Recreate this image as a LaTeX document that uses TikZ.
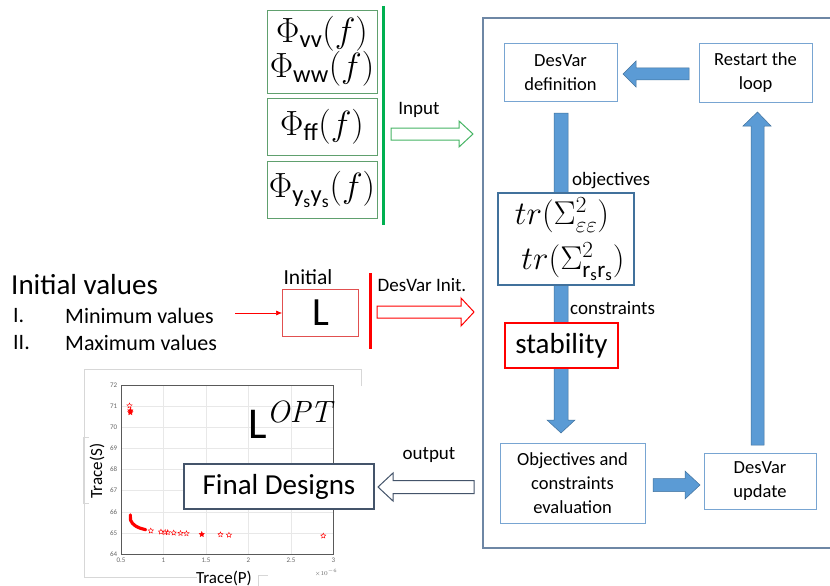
\documentclass[tikz,border=0pt]{standalone}
\usepackage{fix-cm}
\usepackage{amsmath}
\usepackage[no-math]{fontspec}
\setmainfont{Carlito}
\usetikzlibrary{shapes.geometric,arrows.meta}
\definecolor{phigreen}{RGB}{96,160,110}
\definecolor{bargreen}{RGB}{0,176,80}
\definecolor{arrowgreen}{RGB}{70,180,100}
\definecolor{boxblue}{RGB}{120,165,210}
\definecolor{objblue}{RGB}{65,113,156}
\definecolor{arrowblue}{RGB}{91,155,213}
\definecolor{bigframe}{RGB}{110,135,165}
\definecolor{lred}{RGB}{225,80,80}
\definecolor{slate}{RGB}{68,84,106}
\definecolor{gridc}{RGB}{232,232,232}
\definecolor{framec}{RGB}{215,215,215}
\begin{document}
\begin{tikzpicture}[x=1pt,y=-1pt,
  lbl/.style={font=\fontsize{19}{23}\selectfont, inner sep=0},
  bluebox/.style={draw=boxblue, line width=1pt, fill=white, align=center, inner sep=0,
    font=\fontsize{18.5}{24}\selectfont},
  phibox/.style={draw=phigreen, line width=0.8pt, fill=white, align=center, inner sep=0,
    minimum width=110pt, font=\fontsize{35}{35}\selectfont},
  blockarrow/.style={fill=arrowblue, draw=objblue, line width=0.5pt},
  ticklbl/.style={font=\fontsize{7}{8}\selectfont, text=gray!80!black, inner sep=1pt},
  mystar/.style={star, star points=5, star point ratio=2.2, draw=red, line width=0.4pt,
    inner sep=0, minimum size=5.5pt}]
\clip (0,0) rectangle (830,586);
\fill[white] (0,0) rectangle (830,586);

% ---------- plot (background image) ----------
\draw[framec, line width=0.6pt] (361,386) -- (361,369) -- (84,369) -- (84,577) -- (197,577);
\draw[framec, line width=0.6pt] (258,586) -- (258,575) -- (268,575);
\draw[framec, line width=0.6pt] (89,437) -- (83,437) -- (83,503) -- (89,503);
\begin{scope}[shift={(121,554)}, x=85pt, y=21.125pt, shift={(-0.5,-64)}]
  \foreach \v in {1,1.5,2,2.5} \draw[gridc, line width=0.5pt] (\v,64) -- (\v,72);
  \foreach \w in {65,...,71} \draw[gridc, line width=0.5pt] (0.5,\w) -- (3,\w);
  \draw[gray!70!black, line width=0.5pt] (0.5,64) rectangle (3,72);
  \foreach \v in {0.5,1,1.5,2,2.5,3} \node[ticklbl, anchor=north] (tx\v) at (\v,63.85) {\v};
  \foreach \w in {64,...,72} \node[ticklbl, anchor=east] (ty\w) at (0.47,\w) {\w};
  \draw[red, line width=3.2pt, line cap=round] plot[smooth] coordinates
    {(0.61,65.85) (0.613,65.6) (0.635,65.45) (0.67,65.33) (0.72,65.23) (0.79,65.15)};
  \foreach \p/\q in {0.6/71.02, 0.85/65.1, 0.97/65.05, 1.02/65.03, 1.05/65.02,
      1.12/65.0, 1.2/64.98, 1.27/64.97, 1.67/64.92, 1.77/64.9, 2.88/64.86}
    \node[mystar] (s\p) at (\p,\q) {};
  \foreach \p/\q in {0.61/70.78, 0.61/70.7, 1.45/64.93}
    \node[mystar, fill=red] (f\p\q) at (\p,\q) {};
\end{scope}
\node[font=\fontsize{17}{17}\selectfont, rotate=90, inner sep=0] (ylab) at (97,471) {Trace(S)};
\node[font=\fontsize{17}{17}\selectfont, inner sep=0] (xlab) at (224,578) {Trace(P)};
\node[font=\fontsize{6}{6}\selectfont, text=gray!80!black, inner sep=0] (xexp) at (326,573) {$\times10^{-6}$};
\node[anchor=base west, inner sep=0, font=\fontsize{44}{44}\selectfont] (lopt) at (248,438)
  {L$^{\mathit{OPT}}$};

% ---------- inputs ----------
\node[phibox, minimum height=83pt] (phi1) at (322,51.5) {$\Phi_{\text{vv}}(f)$\\$\Phi_{\text{ww}}(f)$};
\node[phibox, minimum height=57pt] (phi2) at (322,126.5) {$\Phi_{\text{ff}}(f)$};
\node[phibox, minimum height=57pt] (phi3) at (322,189.5) {$\Phi_{\text{y}_\text{s}\text{y}_\text{s}}(f)$};
\coordinate (gtop) at (383,6);
\coordinate (gbot) at (383,225);
\draw[bargreen, line width=3pt] (gtop) -- (gbot);
\node[lbl] (inputlbl) at (419,110) {Input};
\draw[arrowgreen, line width=1pt, fill=white] (391,128) -- (459,128) -- (459,121) -- (473,134)
  -- (459,147) -- (459,140) -- (391,140) -- cycle;

% ---------- initial values ----------
\node[anchor=west, inner sep=0, font=\fontsize{29}{29}\selectfont] (initv) at (11,285) {Initial values};
\node[anchor=west, inner sep=0, font=\fontsize{22}{22}\selectfont] (i1) at (13,316) {I.};
\node[anchor=west, inner sep=0, font=\fontsize{22}{22}\selectfont] (minv) at (65,316) {Minimum values};
\node[anchor=west, inner sep=0, font=\fontsize{22}{22}\selectfont] (i2) at (13,343) {II.};
\node[anchor=west, inner sep=0, font=\fontsize{22}{22}\selectfont] (maxv) at (65,343) {Maximum values};
\node[draw=lred, line width=0.8pt, minimum width=76pt, minimum height=47pt, inner sep=0,
  font=\fontsize{40}{40}\selectfont] (lbox) at (320.5,312.5) {L};
\node[inner sep=0, font=\fontsize{21.5}{22}\selectfont] (initlbl) at (308,277) {Initial};
\coordinate (minarr) at (235,313);
\draw[red, line width=0.6pt, -{Latex[length=6pt,width=5pt]}] (minarr) -- (lbox.west |- minarr);
\coordinate (rtop) at (370,273);
\coordinate (rbot) at (370,349);
\draw[red, line width=3pt] (rtop) -- (rbot);
\node[lbl] (dvinit) at (422,285) {DesVar Init.};
\draw[red, line width=1pt, fill=white] (377,306) -- (461,306) -- (461,298) -- (474,312)
  -- (461,326) -- (461,318) -- (377,318) -- cycle;

% ---------- optimisation loop ----------
\draw[bigframe, line width=1.3pt] (483,18) rectangle (850,548);
% down arrow (behind boxes)
\draw[blockarrow] (554,113) -- (568,113) -- (568,420) -- (575,420) -- (561,433) -- (547,420)
  -- (554,420) -- cycle;
% up arrow
\draw[blockarrow] (751,445) -- (764,445) -- (764,126) -- (771,126) -- (757.5,112) -- (743,126)
  -- (751,126) -- cycle;
% left arrow
\draw[blockarrow] (689,68) -- (636,68) -- (636,61) -- (623,74) -- (636,87) -- (636,80)
  -- (689,80) -- cycle;
% right arrow
\draw[blockarrow] (653,478.5) -- (685,478.5) -- (685,471) -- (700,485) -- (685,499)
  -- (685,491.5) -- (653,491.5) -- cycle;

\node[bluebox, minimum width=113pt, minimum height=57pt] (desdef) at (560.5,72.5) {DesVar\\definition};
\node[bluebox, minimum width=113pt, minimum height=58pt] (restart) at (755.5,73) {Restart the\\loop};
\node[lbl, anchor=west] (objlbl) at (572,181) {objectives};
\node[draw=objblue, line width=1.6pt, fill=white, minimum width=136pt, minimum height=92pt,
  inner sep=0, align=center, font=\fontsize{33}{44}\selectfont] (objbox) at (566,239)
  {\hspace*{-8pt}$tr(\Sigma^2_{\varepsilon\varepsilon})$\\[1pt]\hspace*{14pt}$tr(\Sigma^2_{\text{r}_\text{s}\text{r}_\text{s}})$};
\node[lbl, anchor=west] (conlbl) at (570,308) {constraints};
\node[draw=red, line width=1.6pt, fill=white, minimum width=113pt, minimum height=45pt,
  inner sep=0, font=\fontsize{29}{29}\selectfont] (stab) at (561.5,345.5) {stability};
\node[bluebox, minimum width=145pt, minimum height=80pt] (eval) at (572.5,483)
  {Objectives and\\constraints\\evaluation};
\node[bluebox, minimum width=112pt, minimum height=56pt] (update) at (760,481) {DesVar\\update};

% ---------- output ----------
\node[lbl] (outlbl) at (429,455) {output};
\draw[slate, line width=1pt, fill=white] (474,480.5) -- (393,480.5) -- (393,473) -- (378,487)
  -- (393,501) -- (393,493.5) -- (474,493.5) -- cycle;
\node[draw=slate, line width=1.2pt, fill=white, minimum width=190pt, minimum height=45pt,
  inner sep=0, font=\fontsize{29}{29}\selectfont] (final) at (279,486.5) {Final Designs};
\end{tikzpicture}
\end{document}
